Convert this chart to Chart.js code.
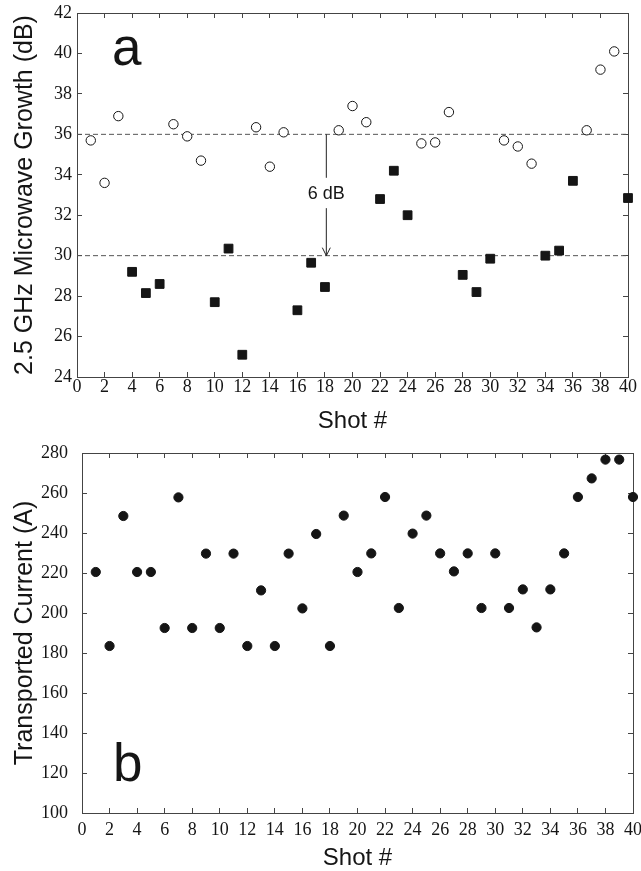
<!DOCTYPE html>
<html>
<head>
<meta charset="utf-8">
<script src="https://cdn.jsdelivr.net/npm/chart.js@4"></script>
<style>
  html, body { margin: 0; padding: 0; background: #fff; }
  body { width: 641px; height: 871px; position: relative; overflow: hidden; }
  .panel { position: absolute; left: 0; width: 641px; }
</style>
</head>
<body>
<div class="panel" style="top:0;height:440px"><canvas id="growth" width="641" height="440"></canvas></div>
<div class="panel" style="top:440px;height:433px"><canvas id="current" width="641" height="433"></canvas></div>
<script>
// panel a: microwave growth, open circles and filled squares
const openShots = [1, 2, 3, 7, 8, 9, 13, 14, 15, 19, 20, 21, 25, 26, 27, 31, 32, 33, 37, 38, 39];
const openGrowth = [35.7, 33.6, 36.9, 36.5, 35.9, 34.7, 36.35, 34.4, 36.1, 36.2, 37.4, 36.6, 35.55, 35.6, 37.1, 35.7, 35.4, 34.55, 36.2, 39.2, 40.1];
const filledShots = [4, 5, 6, 10, 11, 12, 16, 17, 18, 22, 23, 24, 28, 29, 30, 34, 35, 36, 40];
const filledGrowth = [29.2, 28.15, 28.6, 27.7, 30.35, 25.1, 27.3, 29.65, 28.45, 32.8, 34.2, 32.0, 29.05, 28.2, 29.85, 30.0, 30.25, 33.7, 32.85];
const refLevels = [36, 30];
const arrowShot = 18.1;
const arrowLabel = "6 dB";

// panel b: transported current per shot
const shots = [1, 2, 3, 4, 5, 6, 7, 8, 9, 10, 11, 12, 13, 14, 15, 16, 17, 18, 19, 20,
	21, 22, 23, 24, 25, 26, 27, 28, 29, 30, 31, 32, 33, 34, 35, 36, 37, 38, 39, 40];
const current = [220.5, 183.5, 248.5, 220.5, 220.5, 192.5, 257.8, 192.5, 229.7, 192.5,
	229.7, 183.5, 211.3, 183.5, 229.7, 202.3, 239.5, 183.5, 248.7, 220.5,
	229.8, 258, 202.5, 239.7, 248.7, 229.8, 220.8, 229.8, 202.5, 229.8,
	202.5, 211.8, 192.8, 211.8, 229.8, 258, 267.3, 276.7, 276.7, 258];

const xTitle = "Shot #";
const growthTitle = "2.5 GHz Microwave Growth (dB)";
const currentTitle = "Transported Current (A)";

const INK = "#151515";
const AXIS = "#444";
const SERIF = "'Liberation Serif', 'Times New Roman', serif";
const SANS = "'Liberation Sans', Arial, sans-serif";

function pairs(xs, ys) {
	return xs.map((x, i) => ({ x, y: ys[i] }));
}

// keep the plot box where the layout padding puts it
function noOverhang(s) {
	s.paddingTop = 0;
	s.paddingBottom = 0;
	s.paddingLeft = 0;
	s.paddingRight = 0;
}

function frameAxis(pos, min, max, step) {
	return {
		type: "linear",
		position: pos,
		min, max,
		ticks: { display: false, stepSize: step },
		grid: { drawOnChartArea: false, tickLength: -5, color: AXIS },
		border: { color: AXIS },
		afterFit: (s) => {
			if (pos === "top") s.height = 0; else s.width = 0;
			noOverhang(s);
		}
	};
}

function mainX(tickPad, titlePad, height) {
	return {
		type: "linear",
		position: "bottom",
		min: 0, max: 40,
		ticks: { stepSize: 2, autoSkip: false, maxRotation: 0, padding: tickPad, color: INK, font: { family: SERIF, size: 18 } },
		grid: { drawOnChartArea: false, tickLength: -5, color: AXIS },
		border: { color: AXIS },
		title: { display: true, text: xTitle, color: INK, font: { family: SANS, size: 24 }, padding: { top: 0, bottom: titlePad } },
		afterFit: (s) => { s.height = height; noOverhang(s); }
	};
}

function mainY(min, max, step, tickPad, title, width) {
	return {
		type: "linear",
		position: "left",
		min, max,
		ticks: { stepSize: step, autoSkip: false, padding: tickPad, color: INK, font: { family: SERIF, size: 18 } },
		grid: { drawOnChartArea: false, tickLength: -5, color: AXIS },
		border: { color: AXIS },
		title: { display: true, text: title, color: INK, font: { family: SANS, size: 25 }, padding: { top: 10, bottom: 0 } },
		afterFit: (s) => { s.width = width; noOverhang(s); }
	};
}

// panel letter and the 6 dB arrow
const decorations = {
	id: "decorations",
	afterDatasetsDraw(chart, args, opts) {
		const { ctx, chartArea, scales } = chart;
		ctx.save();
		ctx.fillStyle = INK;
		ctx.font = "53px " + SANS;
		ctx.textBaseline = "alphabetic";
		ctx.textAlign = "left";
		ctx.fillText(opts.letter, chartArea.left + opts.dx, opts.fromTop ? chartArea.top + opts.dy : chartArea.bottom - opts.dy);

		if (opts.arrow) {
			const x = scales.x.getPixelForValue(arrowShot);
			const y = (v) => scales.y.getPixelForValue(v);
			ctx.strokeStyle = "#222";
			ctx.lineWidth = 1;
			ctx.beginPath();
			ctx.moveTo(x, y(refLevels[0]));
			ctx.lineTo(x, y(33.85));
			ctx.moveTo(x, y(32.35));
			ctx.lineTo(x, y(refLevels[1]));
			ctx.moveTo(x - 4, y(refLevels[1]) - 8);
			ctx.lineTo(x, y(refLevels[1]));
			ctx.lineTo(x + 4, y(refLevels[1]) - 8);
			ctx.stroke();
			ctx.font = "18px " + SANS;
			ctx.textAlign = "center";
			ctx.textBaseline = "middle";
			ctx.fillText(arrowLabel, x, y(33.05));
		}
		ctx.restore();
	}
};

const refDatasets = refLevels.map((lv) => ({
	type: "line",
	data: [{ x: 0, y: lv }, { x: 40, y: lv }],
	borderColor: "#555",
	borderWidth: 1,
	borderDash: [5, 3],
	pointRadius: 0,
	order: 3
}));

new Chart(document.getElementById("growth"), {
	type: "scatter",
	data: {
		datasets: [
			...refDatasets,
			{
				data: pairs(openShots, openGrowth),
				pointStyle: "circle",
				pointRadius: 4.7,
				borderWidth: 1,
				borderColor: INK,
				backgroundColor: "#fff",
				clip: false,
				order: 1
			},
			{
				data: pairs(filledShots, filledGrowth),
				pointStyle: "rect",
				pointRadius: 6.2,
				borderWidth: 1,
				borderColor: INK,
				backgroundColor: INK,
				clip: false,
				order: 1
			}
		]
	},
	options: {
		responsive: false,
		animation: false,
		layout: { padding: { top: 13, right: 13, left: 0, bottom: 0 } },
		plugins: {
			legend: { display: false },
			tooltip: { enabled: false },
			decorations: { letter: "a", dx: 35, dy: 52, fromTop: true, arrow: true }
		},
		scales: {
			x: mainX(4, 4, 63),
			y: mainY(24, 42, 2, 10, growthTitle, 77),
			x2: frameAxis("top", 0, 40, 2),
			y2: frameAxis("right", 24, 42, 2)
		}
	},
	plugins: [decorations]
});

new Chart(document.getElementById("current"), {
	type: "scatter",
	data: {
		datasets: [{
			data: pairs(shots, current),
			pointStyle: "circle",
			pointRadius: 4.6,
			borderWidth: 1,
			borderColor: INK,
			backgroundColor: INK,
			clip: false
		}]
	},
	options: {
		responsive: false,
		animation: false,
		layout: { padding: { top: 13, right: 8, left: 0, bottom: 0 } },
		plugins: {
			legend: { display: false },
			tooltip: { enabled: false },
			decorations: { letter: "b", dx: 31, dy: 32, fromTop: false, arrow: false }
		},
		scales: {
			x: mainX(11, 0, 60),
			y: mainY(100, 280, 20, 19, currentTitle, 82),
			x2: frameAxis("top", 0, 40, 2),
			y2: frameAxis("right", 100, 280, 20)
		}
	},
	plugins: [decorations]
});
</script>
</body>
</html>
